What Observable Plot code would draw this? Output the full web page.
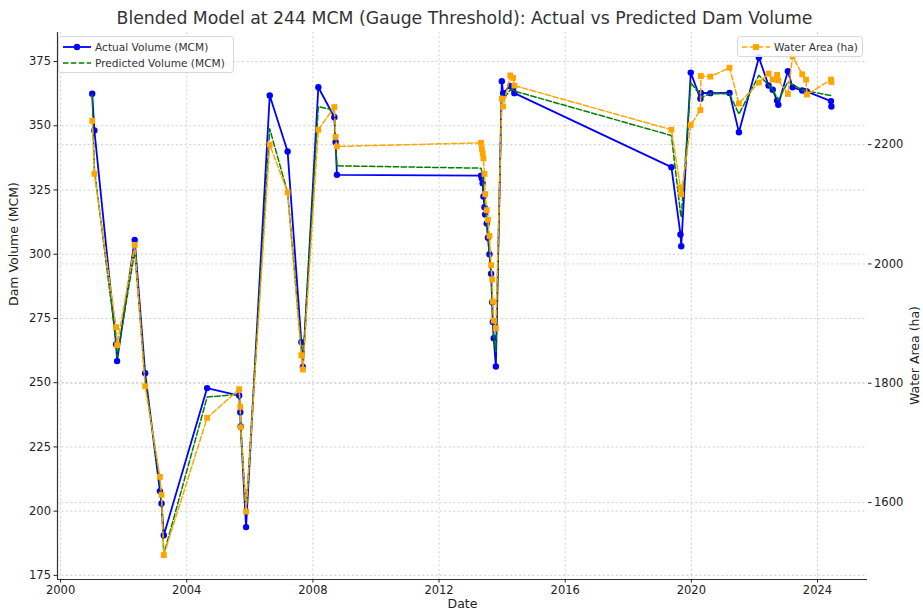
<!DOCTYPE html>
<html><head><meta charset="utf-8">
<script src="https://cdn.jsdelivr.net/npm/d3@7"></script>
<script src="https://cdn.jsdelivr.net/npm/@observablehq/plot@0.6"></script>
<style>
body{margin:0;background:#fff;font-family:"DejaVu Sans",sans-serif;}
#wrap{position:relative;width:923px;height:612px;overflow:hidden;}
#title{position:absolute;left:0;top:7px;width:923px;text-align:center;font-size:17.3px;color:#333;line-height:22px;padding-left:6px;box-sizing:border-box;}
.legend{position:absolute;background:rgba(255,255,255,0.85);border:1px solid #d8d8d8;border-radius:3px;font-size:10.6px;color:#333;box-sizing:border-box;padding:2px 4px;white-space:nowrap;}
.row{display:flex;align-items:center;height:16px;white-space:nowrap;}
.row svg{margin-right:4px;flex:none;}
#chart{position:absolute;left:0;top:0;}
</style></head>
<body><div id="wrap"><div id="chart"></div><div id="title">Blended Model at 244 MCM (Gauge Threshold): Actual vs Predicted Dam Volume</div></div>
<script>
const dates = ["2001-01-01","2001-01-26","2001-10-05","2001-10-16","2002-05-08","2002-09-06","2003-02-24","2003-03-15","2003-04-10","2004-08-24","2005-08-30","2005-09-12","2005-09-16","2005-11-18","2006-08-19","2007-03-14","2007-08-20","2007-09-07","2008-03-04","2008-09-05","2008-09-20","2008-10-05","2013-05-01","2013-05-11","2013-05-20","2013-05-29","2013-06-10","2013-06-18","2013-07-06","2013-07-20","2013-08-07","2013-08-26","2013-09-07","2013-09-14","2013-09-25","2013-10-20","2013-12-28","2014-01-12","2014-04-05","2014-05-07","2014-05-22","2019-05-15","2019-08-28","2019-09-06","2019-12-25","2020-04-15","2020-04-20","2020-08-08","2021-03-18","2021-07-05","2022-02-21","2022-06-13","2022-07-31","2022-09-20","2022-10-04","2023-01-23","2023-03-18","2023-07-08","2023-08-21","2023-09-01","2024-06-05","2024-06-10"];
const actualVolume = [362.5,348.2,265,258.4,305.6,253.7,207.8,203,190.6,247.9,245,238.5,233,193.8,361.8,340,265.8,256.1,365,353.3,343.6,330.9,330.6,329.5,327.6,322.5,318.3,315.5,312,306.4,300,292.4,281.3,273.6,267.3,256.3,367.3,362.7,365.5,364.5,362.7,333.9,307.7,303.1,370.7,360.5,362.8,362.7,362.8,347.5,376.6,365.7,364,359.8,358.2,371.2,365,363.7,363.5,363.3,359.6,357.5];
const predictedVolume = [362,333,266,260,301,251,211,203,183.2,244.4,245.5,240,234,200,348.8,324,263,258,357.5,356,343,334.4,333.5,332,330,326,322,318,313,308,301,293,283,275,268,262,362,360,364,364,363.5,346.2,316,314.4,366.7,362,361,362.5,362.5,354.5,369.6,366,364,361,360,367,366,364,363.5,363.5,361.8,361.5];
const waterArea = [2240,2151,1894,1864,2032,1795,1643,1613,1512,1742,1790,1761,1726,1585,2200,2120,1847,1823,2225,2263,2213,2197,2203,2193,2185,2177,2151,2117,2090,2074,2047,1998,1974,1937,1905,1892,2277,2264,2316,2312,2299,2225,2128,2117,2233,2258,2315,2314,2329,2269,2304,2319,2309,2317,2308,2285,2348,2318,2309,2284,2309,2305];
const volTicks = [175,200,225,250,275,300,325,350,375];
const areaTicks = [1600,1800,2000,2200];
const yearTicks = [2000,2004,2008,2012,2016,2020,2024];

const volDomain = [173.4, 386.3];
const areaDomain = [1471, 2388];
const xDomain = [new Date("1999-11-26T00:00:00Z"), new Date("2025-08-02T00:00:00Z")];
const toV = a => volDomain[0] + (a - areaDomain[0]) * (volDomain[1]-volDomain[0])/(areaDomain[1]-areaDomain[0]);
const fromV = v => areaDomain[0] + (v - volDomain[0]) * (areaDomain[1]-areaDomain[0])/(volDomain[1]-volDomain[0]);

const rows = dates.map((d,i)=>({date:new Date(d+"T00:00:00Z"), actual:actualVolume[i], pred:predictedVolume[i], areaV:toV(waterArea[i])}));
const xTicks = yearTicks.map(y=>new Date(Date.UTC(y,0,1)));
const areaTicksV = areaTicks.map(toV);
const gridStyle = {stroke:"#c8c8c8", strokeOpacity:1, strokeWidth:0.8, strokeDasharray:"2.2,2.2"};
const dash = "5.5,2.4";

const chart = Plot.plot({
  width:923, height:612,
  marginTop:32, marginBottom:33, marginLeft:57, marginRight:56,
  style:{fontFamily:"DejaVu Sans, sans-serif", fontSize:"11.5px", color:"#222", background:"#fff"},
  x:{type:"utc", domain:xDomain},
  y:{domain:volDomain},
  marks:[
    Plot.gridX(xTicks, gridStyle),
    Plot.gridY(volTicks, gridStyle),
    Plot.gridY(areaTicksV, gridStyle),
    Plot.line(rows,{x:"date",y:"actual",stroke:"#0000ff",strokeWidth:1.8}),
    Plot.dot(rows,{x:"date",y:"actual",fill:"#0000ff",r:3.2}),
    Plot.line(rows,{x:"date",y:"pred",stroke:"#008000",strokeWidth:1.5,strokeDasharray:dash}),
    Plot.line(rows,{x:"date",y:"areaV",stroke:"#ffa500",strokeWidth:1.5,strokeDasharray:dash}),
    Plot.dot(rows,{x:"date",y:"areaV",fill:"#ffa500",symbol:"square",r:3.3}),
    Plot.ruleY([volDomain[0]],{stroke:"#333",strokeWidth:1.2}),
    Plot.ruleX([xDomain[0]],{stroke:"#333",strokeWidth:1.2}),
    Plot.axisX(xTicks,{tickFormat:d=>String(d.getUTCFullYear()), tickSize:3.5, tickPadding:3, label:null, fill:"#222"}),
    Plot.axisY(volTicks,{anchor:"left", tickFormat:d=>String(d), tickSize:3.5, tickPadding:3, label:null, fill:"#222"}),
    Plot.axisY(areaTicksV,{anchor:"right", tickFormat:d=>String(Math.round(fromV(d))), tickSize:3.5, tickPadding:3, label:null, fill:"#222"}),
    Plot.text(["Dam Volume (MCM)"],{frameAnchor:"left", rotate:-90, dx:-44, fontSize:12.5, fill:"#222"}),
    Plot.text(["Water Area (ha)"],{frameAnchor:"right", rotate:-90, dx:47, fontSize:12.5, fill:"#222"}),
    Plot.text(["Date"],{frameAnchor:"bottom", dy:28.5, fontSize:12.5, fill:"#222"})
  ]
});
document.getElementById("chart").appendChild(chart);

function sample(color, kind){
  const marker = kind==="circle" ? `<circle cx="14" cy="5" r="3.2" fill="${color}"/>` : (kind==="square" ? `<rect x="11" y="2" width="6" height="6" fill="${color}"/>` : "");
  const da = kind==="circle" ? "" : `stroke-dasharray="${dash}"`;
  const w = kind==="circle" ? 1.8 : 1.5;
  return `<svg width="28" height="10"><line x1="0" y1="5" x2="28" y2="5" stroke="${color}" stroke-width="${w}" ${da}/>${marker}</svg>`;
}
const wrap = document.getElementById("wrap");
const l1 = document.createElement("div");
l1.className="legend"; l1.style.left="58px"; l1.style.top="36px"; l1.style.width="176px"; l1.style.height="37px";
l1.innerHTML = `<div class="row">${sample("#0000ff","circle")}<span>Actual Volume (MCM)</span></div><div class="row">${sample("#008000","line")}<span>Predicted Volume (MCM)</span></div>`;
wrap.appendChild(l1);
const l2 = document.createElement("div");
l2.className="legend"; l2.style.left="737px"; l2.style.top="36px"; l2.style.width="126px"; l2.style.height="21px";
l2.innerHTML = `<div class="row">${sample("#ffa500","square")}<span>Water Area (ha)</span></div>`;
wrap.appendChild(l2);
</script></body></html>
